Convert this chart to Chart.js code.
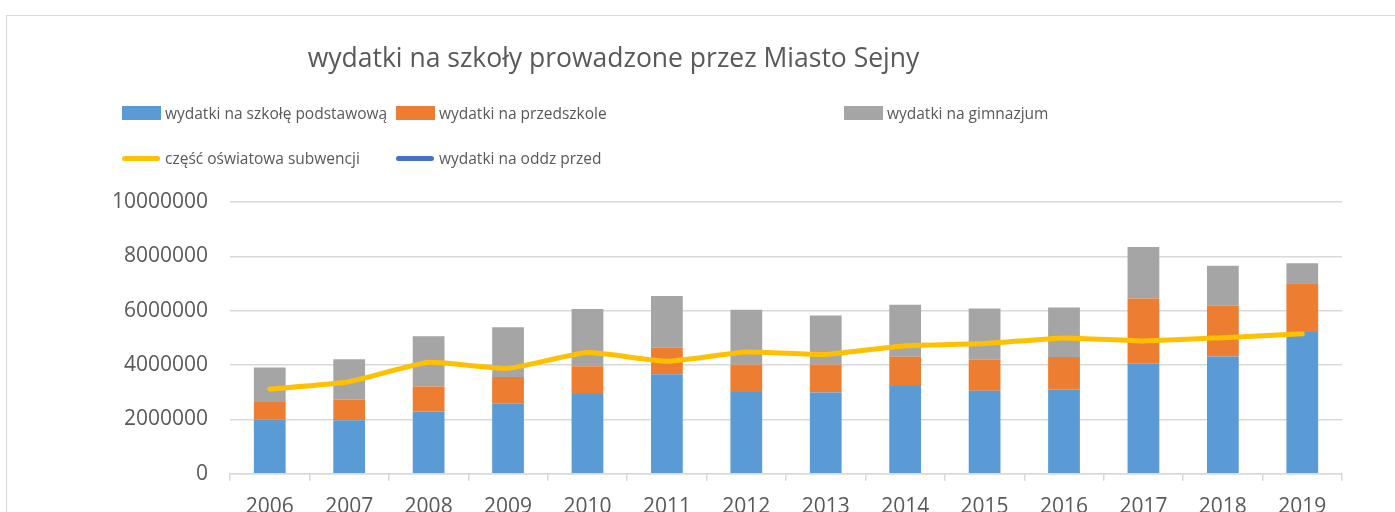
<!DOCTYPE html>
<html>
<head>
<meta charset="utf-8">
<script src="https://cdn.jsdelivr.net/npm/chart.js@4"></script>
<style>
  html, body { margin: 0; padding: 0; background: #fff; overflow: hidden; width: 1395px; height: 512px; }
  #frame { position: absolute; left: 6px; top: 15px; width: 1500px; height: 600px; border: 1.5px solid #D9D9D9; box-sizing: border-box; }
  #wrap { position: absolute; left: 0; top: 0; width: 1395px; height: 534px; }
  #title { position: absolute; left: 0; top: 40px; width: 1227px; text-align: center;
    font-family: 'Open Sans', sans-serif; font-size: 26.5px; color: #595959; line-height: 34px; }
  #legend { position: absolute; left: 122px; top: 99px; display: grid; grid-template-columns: 274px 448px auto; row-gap: 17px;
    font-family: 'Open Sans', sans-serif; font-size: 15.5px; color: #595959; }
  .item { display: flex; align-items: center; height: 28px; white-space: nowrap; }
  .box { flex: 0 0 39px; height: 14px; margin-right: 4px; }
  .ln { flex: 0 0 38px; height: 5px; border-radius: 3px; margin-right: 5px; }
</style>
</head>
<body>
<div id="frame"></div>
<div id="wrap"><canvas id="chart" width="1395" height="534"></canvas></div>
<div id="title">wydatki na szkoły prowadzone przez Miasto Sejny</div>
<div id="legend"></div>
<script>
// ── Data ─────────────────────────────────────────────────────
const years = ['2006', '2007', '2008', '2009', '2010', '2011', '2012', '2013', '2014', '2015', '2016', '2017', '2018', '2019'];
const podstawowa  = [2000000, 1970000, 2290000, 2580000, 2940000, 3660000, 3010000, 2990000, 3230000, 3060000, 3100000, 4050000, 4320000, 5220000];
const przedszkole = [640000, 760000, 920000, 980000, 1020000, 980000, 1010000, 1030000, 1080000, 1140000, 1200000, 2400000, 1860000, 1790000];
const gimnazjum   = [1270000, 1480000, 1850000, 1830000, 2100000, 1900000, 2020000, 1800000, 1910000, 1880000, 1820000, 1890000, 1470000, 740000];
const subwencja   = [3120000, 3390000, 4100000, 3880000, 4460000, 4140000, 4480000, 4390000, 4710000, 4790000, 5000000, 4890000, 5010000, 5150000];
const oddzPrzed   = [null, null, null, null, null, null, null, null, null, null, null, null, null, null];
const yTicks = [0, 2000000, 4000000, 6000000, 8000000, 10000000];

const textColor = '#595959';
const gridColor = '#D9D9D9';

Chart.defaults.font.family = "'Open Sans', sans-serif";
Chart.defaults.color = textColor;

function bar(label, data, color) {
  return { type: 'bar', label, data, backgroundColor: color, stack: 'bars', order: 1,
    barPercentage: 0.4, categoryPercentage: 1 };
}
function line(label, data, color, stack) {
  return { type: 'line', label, data, borderColor: color, backgroundColor: color, borderWidth: 5,
    pointRadius: 0, tension: 0.15, borderCapStyle: 'round', borderJoinStyle: 'round', stack, order: 0 };
}

const chart = new Chart(document.getElementById('chart'), {
  data: {
    labels: years,
    datasets: [
      bar('wydatki na szkołę podstawową', podstawowa, '#5B9BD5'),
      bar('wydatki na przedszkole', przedszkole, '#ED7D31'),
      bar('wydatki na gimnazjum', gimnazjum, '#A5A5A5'),
      line('część oświatowa subwencji', subwencja, '#FFC000', 'l1'),
      line('wydatki na oddz przed', oddzPrzed, '#4472C4', 'l2'),
    ],
  },
  options: {
    responsive: false,
    animation: false,
    layout: { padding: { left: 90, right: 53, top: 202, bottom: 0 } },
    plugins: {
      legend: { display: false },
      tooltip: { enabled: false },
      title: { display: false },
    },
    scales: {
      x: {
        stacked: true,
        offset: true,
        grid: { offset: true, drawOnChartArea: false, drawTicks: true, tickLength: 7, color: gridColor, lineWidth: 1.5 },
        border: { color: gridColor, width: 1.5 },
        ticks: { color: textColor, font: { size: 21 }, padding: 14, maxRotation: 0 },
      },
      y: {
        stacked: true,
        min: 0,
        max: 10000000,
        afterBuildTicks: (s) => { s.ticks = yTicks.map(v => ({ value: v })); },
        grid: { color: gridColor, lineWidth: 1.5, drawTicks: false },
        border: { display: false },
        ticks: { color: textColor, font: { size: 21 }, padding: 22, callback: v => String(v) },
      },
    },
  },
});

// ── HTML legend, built from the datasets ──
const legendEl = document.getElementById('legend');
chart.data.datasets.forEach(ds => {
  const item = document.createElement('div');
  item.className = 'item';
  const mark = document.createElement('span');
  mark.className = ds.type === 'line' ? 'ln' : 'box';
  mark.style.background = ds.type === 'line' ? ds.borderColor : ds.backgroundColor;
  item.appendChild(mark);
  item.appendChild(document.createTextNode(ds.label));
  legendEl.appendChild(item);
});
</script>
</body>
</html>
